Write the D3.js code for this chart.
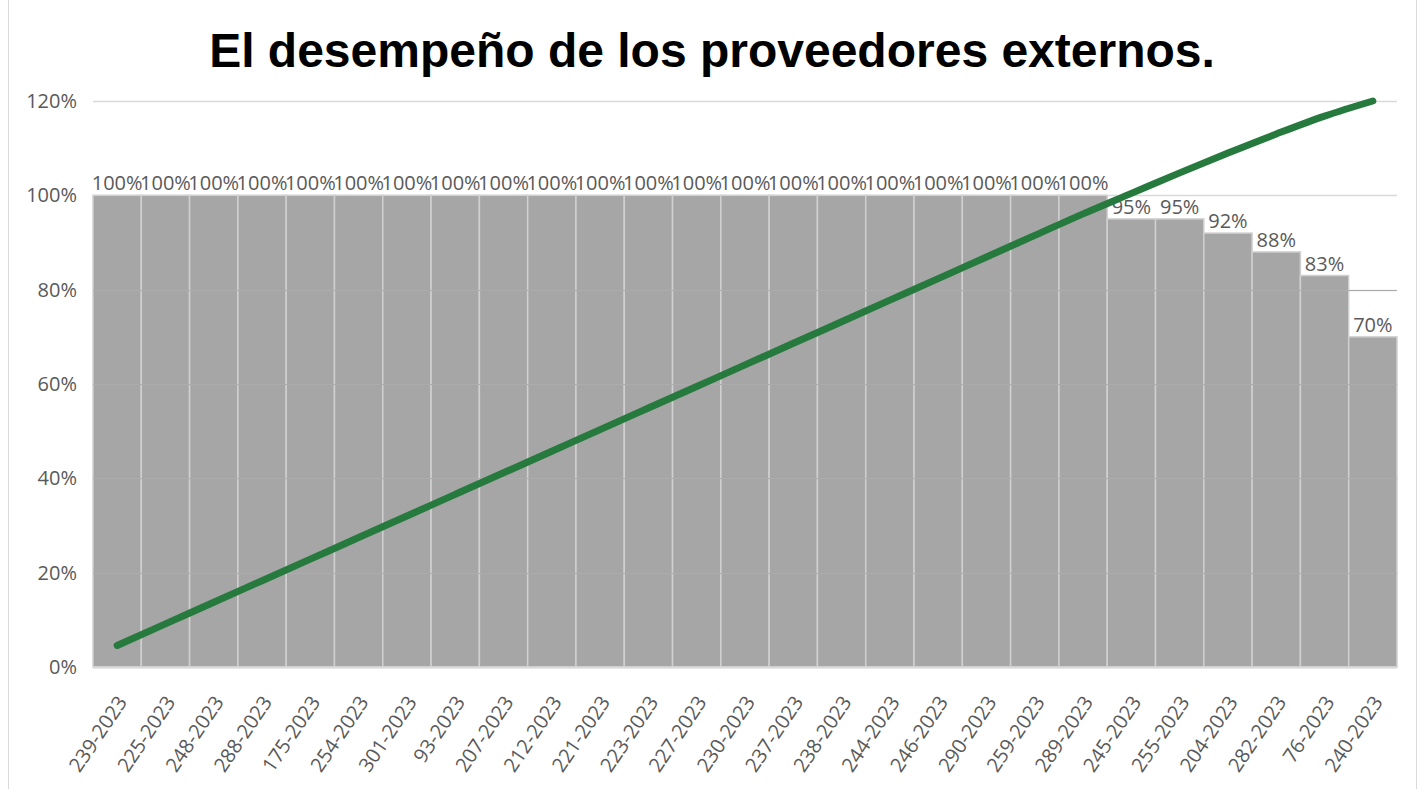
<!DOCTYPE html>
<html>
<head>
<meta charset="utf-8">
<script src="https://cdn.jsdelivr.net/npm/d3@7"></script>
<style>
  html, body { margin: 0; padding: 0; background: #fff; }
  svg { display: block; }
</style>
</head>
<body>
<svg id="chart" width="1423" height="789"></svg>
<script>
// Supplier order codes (x categories)
const categories = [
  "239-2023", "225-2023", "248-2023", "288-2023", "175-2023", "254-2023",
  "301-2023", "93-2023", "207-2023", "212-2023", "221-2023", "223-2023",
  "227-2023", "230-2023", "237-2023", "238-2023", "244-2023", "246-2023",
  "290-2023", "259-2023", "289-2023", "245-2023", "255-2023", "204-2023",
  "282-2023", "76-2023", "240-2023"
];
// Performance score per supplier (%)
const performance = [
  100, 100, 100, 100, 100, 100, 100, 100, 100, 100, 100, 100, 100, 100,
  100, 100, 100, 100, 100, 100, 100, 95, 95, 92, 88, 83, 70
];
// Cumulative share of the total (%), plotted on a secondary 0–100% scale
const cumulative = [
  3.81, 7.62, 11.44, 15.25, 19.06, 22.87, 26.69, 30.50, 34.31, 38.12,
  41.94, 45.75, 49.56, 53.37, 57.19, 61.00, 64.81, 68.62, 72.44, 76.25,
  80.06, 83.68, 87.30, 90.81, 94.17, 97.33, 100
];
const yTicks = [0, 20, 40, 60, 80, 100, 120];

const svg = d3.select("#chart");
const W = 1423, H = 789;
const m = { left: 93, right: 1397, top: 101, bottom: 667 };
const labelFont = "Open Sans, sans-serif";

// outer chart frame
svg.append("rect")
  .attr("x", 8.5).attr("y", -1).attr("width", 1408).attr("height", H + 2)
  .attr("fill", "#fff").attr("stroke", "#d9d9d9").attr("stroke-width", 1);

const x = d3.scaleBand().domain(categories).range([m.left, m.right]).padding(0);
const y = d3.scaleLinear().domain([0, 120]).range([m.bottom, m.top]);
const y2 = d3.scaleLinear().domain([0, 100]).range([m.bottom, m.top]);

// title
svg.append("text")
  .attr("x", 712).attr("y", 67)
  .attr("text-anchor", "middle")
  .attr("font-family", "Liberation Sans, Arial, sans-serif")
  .attr("font-weight", "bold")
  .attr("font-size", 48)
  .attr("fill", "#000")
  .text("El desempeño de los proveedores externos.");

// horizontal gridlines
svg.append("g")
  .selectAll("line")
  .data(yTicks)
  .join("line")
  .attr("x1", m.left).attr("x2", m.right)
  .attr("y1", d => Math.round(y(d)) + 0.5).attr("y2", d => Math.round(y(d)) + 0.5)
  .attr("stroke", "#d9d9d9").attr("stroke-width", 1.5);

// bars
svg.append("g")
  .selectAll("rect")
  .data(performance)
  .join("rect")
  .attr("x", (d, i) => x(categories[i]))
  .attr("y", d => y(d))
  .attr("width", x.bandwidth())
  .attr("height", d => y(0) - y(d))
  .attr("fill", "#a6a6a6")
  .attr("stroke", "#d0d0d0")
  .attr("stroke-width", 1.5);

// faint gridlines visible through the bars
svg.append("g")
  .selectAll("line")
  .data(yTicks.filter(d => d > 0 && d < 100))
  .join("line")
  .attr("x1", m.left).attr("x2", m.right)
  .attr("y1", d => Math.round(y(d)) + 0.5).attr("y2", d => Math.round(y(d)) + 0.5)
  .attr("stroke", "#acacac").attr("stroke-width", 1);

// baseline
svg.append("line")
  .attr("x1", m.left).attr("x2", m.right)
  .attr("y1", y(0) + 0.5).attr("y2", y(0) + 0.5)
  .attr("stroke", "#d9d9d9").attr("stroke-width", 2);

// y axis labels
const yAxis = d3.axisLeft(y).tickValues(yTicks).tickFormat(d => d + "%").tickSize(0).tickPadding(16);
const gy = svg.append("g").attr("transform", `translate(${m.left},0)`).call(yAxis);
gy.select(".domain").remove();
gy.selectAll("text")
  .attr("font-family", labelFont)
  .attr("font-size", 20).attr("fill", "#595959");

// x axis labels, rotated
const xAxis = d3.axisBottom(x).tickSize(0).tickPadding(0);
const gx = svg.append("g").attr("transform", `translate(0,${m.bottom})`).call(xAxis);
gx.select(".domain").remove();
gx.selectAll("text")
  .attr("font-family", labelFont)
  .attr("font-size", 20).attr("fill", "#595959")
  .attr("text-anchor", "end")
  .attr("dy", "0.35em")
  .attr("transform", "translate(5,31) rotate(-56)");

// data labels
svg.append("g")
  .selectAll("text")
  .data(performance)
  .join("text")
  .attr("x", (d, i) => x(categories[i]) + x.bandwidth() / 2)
  .attr("y", d => y(d) - 5)
  .attr("text-anchor", "middle")
  .attr("font-family", labelFont)
  .attr("font-size", 20)
  .attr("fill", "#595959")
  .text(d => d + "%");

// cumulative line
const line = d3.line()
  .x((d, i) => x(categories[i]) + x.bandwidth() / 2)
  .y(d => y2(d))
  .curve(d3.curveMonotoneX);
svg.append("path")
  .datum(cumulative)
  .attr("d", line)
  .attr("fill", "none")
  .attr("stroke", "#277a3e")
  .attr("stroke-width", 7)
  .attr("stroke-linecap", "round")
  .attr("stroke-linejoin", "round");
</script>
</body>
</html>
